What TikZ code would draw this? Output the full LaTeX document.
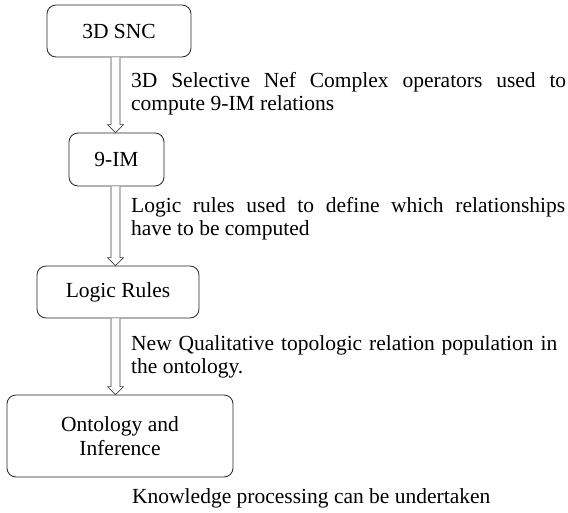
\documentclass[tikz,border=0pt]{standalone}
\usepackage{fontspec}
\setmainfont{Liberation Serif}
\usetikzlibrary{calc}
\tikzset{
  box/.style={draw=black!85, line width=0.8pt, rounded corners=9pt, fill=white,
    font=\fontsize{21.5}{23}\selectfont, align=center, inner sep=0pt},
  note/.style={font=\fontsize{21.5}{23}\selectfont, align=left, inner sep=0pt, anchor=base west},
  harrow/.style={draw=black!75, line width=0.7pt, fill=white}
}
\newcommand{\hollowarrow}[2]{%
  \path[harrow] let \p1=(#1.south -| ax), \p2=(#2.north -| ax) in
    (\x1-4.5pt,\y1) -- (\x1-4.5pt,\y2+8pt) -- (\x1-8pt,\y2+8pt) -- (\x1,\y2)
    -- (\x1+8pt,\y2+8pt) -- (\x1+4.5pt,\y2+8pt) -- (\x1+4.5pt,\y1);}
\begin{document}
\begin{tikzpicture}[x=1pt,y=-1pt]
\useasboundingbox (0,0) rectangle (568,512);
\coordinate (ax) at (115.5,0);
\node[box, minimum width=144pt, minimum height=52pt] (snc) at (119,31) {3D SNC};
\node[box, minimum width=95pt, minimum height=53pt] (nim) at (116.5,159.5) {9-IM};
\node[box, minimum width=162pt, minimum height=52pt] (lr) at (118,292) {Logic Rules};
\node[box, minimum width=226pt, minimum height=82pt, font=\fontsize{21.5}{24}\selectfont] (ont) at (120,436) {Ontology and\\Inference};
\hollowarrow{snc}{nim}
\hollowarrow{nim}{lr}
\hollowarrow{lr}{ont}
\node[note] (t1) at (131,110) {\makebox[435pt][s]{3D Selective Nef Complex operators used to}\\compute 9-IM relations};
\node[note] (t2) at (131,235) {\makebox[434pt][s]{Logic rules used to define which relationships}\\have to be computed};
\node[note] (t3) at (131,373) {\makebox[426pt][s]{New Qualitative topologic relation population in}\\the ontology.};
\node[note] (t4) at (132,503) {Knowledge processing can be undertaken};
\end{tikzpicture}
\end{document}
